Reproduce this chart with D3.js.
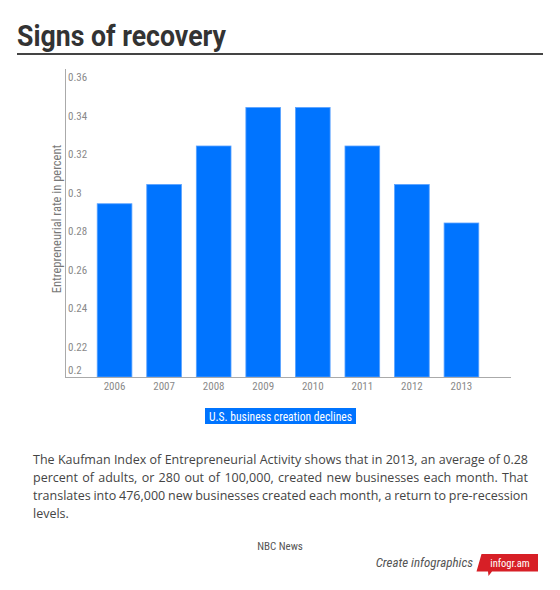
<!DOCTYPE html>
<html>
<head>
<meta charset="utf-8">
<script src="https://cdnjs.cloudflare.com/ajax/libs/d3/7.8.5/d3.min.js"></script>
<style>
  body { margin: 0; background: #fff; }
  svg { display: block; }
</style>
</head>
<body>
<script>
// chart data
var years = ["2006", "2007", "2008", "2009", "2010", "2011", "2012", "2013"];
var rates = [0.29, 0.30, 0.32, 0.34, 0.34, 0.32, 0.30, 0.28];
var yTicks = [0.2, 0.22, 0.24, 0.26, 0.28, 0.3, 0.32, 0.34, 0.36];
var seriesName = "U.S. business creation declines";
var titleText = "Signs of recovery";
var yTitle = "Entrepreneurial rate in percent";
var bodyLines = [
  "The Kaufman Index of Entrepreneurial Activity shows that in 2013, an average of 0.28",
  "percent of adults, or 280 out of 100,000, created new businesses each month. That",
  "translates into 476,000 new businesses created each month, a return to pre-recession",
  "levels."
];
var source = "NBC News";

var w = 560, h = 590;
var narrow = "'Liberation Sans Narrow', 'Roboto Condensed', 'Open Sans', sans-serif";
var svg = d3.select("body").append("svg").attr("width", w).attr("height", h);

// title
svg.append("text").attr("x", 17).attr("y", 46)
  .attr("font-family", "Roboto, 'Open Sans', sans-serif")
  .attr("font-weight", "bold").attr("font-size", 29).attr("fill", "#333")
  .attr("textLength", 209).attr("lengthAdjust", "spacingAndGlyphs")
  .text(titleText);
svg.append("line").attr("x1", 17).attr("x2", 543).attr("y1", 54).attr("y2", 54)
  .attr("stroke", "#444").attr("stroke-width", 1.8);

// scales
var x = d3.scaleBand().domain(years).range([65, 511]).paddingInner(0.3).paddingOuter(0.65);
var y = d3.scaleLinear().domain([0.2, 0.36]).range([377, 69]);

// bars
svg.selectAll(".bar").data(rates).enter().append("rect")
  .attr("class", "bar")
  .attr("x", function(d, i) { return x(years[i]); })
  .attr("width", x.bandwidth())
  .attr("y", function(d) { return y(d); })
  .attr("height", function(d) { return y(0.2) - y(d); })
  .attr("fill", "#0074ff")
  .attr("stroke", "#5aa2ff").attr("stroke-width", 0.8);

// axes lines
svg.append("line").attr("x1", 65.5).attr("x2", 65.5).attr("y1", y(0.36)).attr("y2", y(0.2))
  .attr("stroke", "#aaa").attr("stroke-width", 1);
svg.append("line").attr("x1", 65).attr("x2", 511).attr("y1", y(0.2) + 0.5).attr("y2", y(0.2) + 0.5)
  .attr("stroke", "#aaa").attr("stroke-width", 1);

// y tick labels (drawn just under their value, the lowest one above the baseline)
svg.selectAll(".ytick").data(yTicks).enter().append("text")
  .attr("class", "ytick")
  .attr("x", 68)
  .attr("y", function(d) { return d === 0.2 ? y(d) - 3 : y(d) + 12; })
  .attr("font-family", narrow).attr("font-size", 11).attr("fill", "#8a8a8a")
  .text(function(d) { return String(d); });

// x labels
svg.selectAll(".xtick").data(years).enter().append("text")
  .attr("class", "xtick")
  .attr("x", function(d) { return x(d) + x.bandwidth() / 2; })
  .attr("y", 390)
  .attr("text-anchor", "middle")
  .attr("font-family", narrow).attr("font-size", 11).attr("fill", "#8a8a8a")
  .text(function(d) { return d; });

// y title
svg.append("text")
  .attr("transform", "translate(61,219) rotate(-90)")
  .attr("text-anchor", "middle")
  .attr("font-family", narrow).attr("font-size", 12.5).attr("fill", "#777")
  .text(yTitle);

// legend
var leg = svg.append("g");
var legText = leg.append("text").attr("x", 280.5).attr("y", 420.5)
  .attr("text-anchor", "middle")
  .attr("font-family", narrow).attr("font-size", 13).attr("fill", "#fff")
  .attr("textLength", 143).attr("lengthAdjust", "spacingAndGlyphs")
  .text(seriesName);
leg.insert("rect", "text").attr("x", 205).attr("y", 408)
  .attr("width", 151).attr("height", 16).attr("fill", "#0074ff");

// body paragraph, justified line by line
var bodyFont = "'Open Sans', 'Noto Sans', sans-serif";
var left = 33, right = 528;
bodyLines.forEach(function(line, li) {
  var by = 464 + li * 18;
  var words = line.split(" ");
  var g = svg.append("g");
  var nodes = words.map(function(wd) {
    return g.append("text").attr("y", by)
      .attr("font-family", bodyFont).attr("font-size", 12.5).attr("fill", "#444")
      .text(wd);
  });
  var widths = nodes.map(function(n) { return n.node().getComputedTextLength(); });
  var total = d3.sum(widths);
  var last = li === bodyLines.length - 1;
  var gap = (last || words.length < 2) ? 4 : (right - left - total) / (words.length - 1);
  var cx = left;
  nodes.forEach(function(n, i) {
    n.attr("x", cx);
    cx += widths[i] + gap;
  });
});

// source
svg.append("text").attr("x", 280).attr("y", 550).attr("text-anchor", "middle")
  .attr("font-family", narrow).attr("font-size", 11).attr("fill", "#555")
  .text(source);

// credit badge
svg.append("text").attr("x", 473).attr("y", 567).attr("text-anchor", "end")
  .attr("font-family", narrow).attr("font-style", "italic").attr("font-size", 13).attr("fill", "#555")
  .text("Create infographics");
svg.append("path")
  .attr("d", "M481.5,554 L538,554 L538,571.5 L492,571.5 L488.5,576 L488,571.5 L476.5,571.5 Z")
  .attr("fill", "#d71f26");
svg.append("text").attr("x", 510).attr("y", 566.5).attr("text-anchor", "middle")
  .attr("font-family", narrow).attr("font-size", 10.5).attr("fill", "#fff")
  .text("infogr.am");
</script>
</body>
</html>
